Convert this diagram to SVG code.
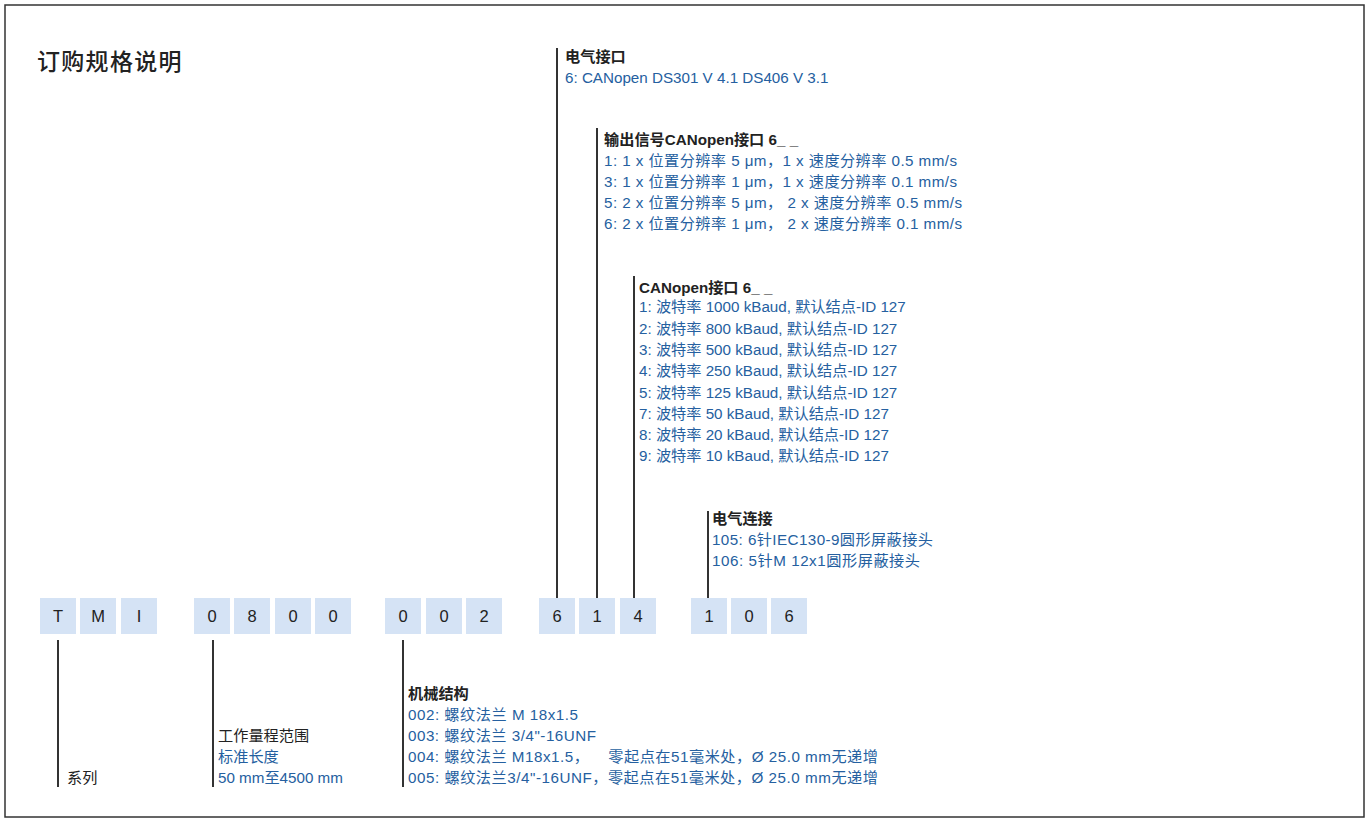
<svg xmlns="http://www.w3.org/2000/svg" width="1372" height="818" viewBox="0 0 1372 818">
<style>
text{font-family:"Liberation Sans","Noto Sans CJK SC",sans-serif;font-size:15.2px}
.h{fill:#222;font-weight:bold}
.n{fill:#222}
.b{fill:#2560a0}
.t{fill:#222;font-size:23px;font-weight:500;letter-spacing:1.3px}
.bx{fill:#d5e3f5}
.c{fill:#222;font-size:16.5px;text-anchor:middle}
.ln{stroke:#333;stroke-width:2;fill:none}
</style>
<rect x="5" y="5" width="1359" height="812" fill="#fff" stroke="#333" stroke-width="1.5"/>
<text class="t" x="37" y="70">订购规格说明</text>

<g id="connectors">
<line class="ln" x1="557" y1="48" x2="557" y2="598"/>
<line class="ln" x1="597" y1="128" x2="597" y2="598"/>
<line class="ln" x1="634" y1="276" x2="634" y2="598"/>
<line class="ln" x1="708" y1="511" x2="708" y2="598"/>
<line class="ln" x1="58" y1="640" x2="58" y2="787"/>
<line class="ln" x1="213" y1="640" x2="213" y2="787"/>
<line class="ln" x1="403" y1="640" x2="403" y2="787"/>
</g>

<g id="code">
<rect class="bx" x="40" y="598" width="36" height="36"/><text class="c" x="58" y="622">T</text>
<rect class="bx" x="80" y="598" width="36" height="36"/><text class="c" x="98" y="622">M</text>
<rect class="bx" x="121" y="598" width="36" height="36"/><text class="c" x="139" y="622">I</text>
<rect class="bx" x="194" y="598" width="36" height="36"/><text class="c" x="212" y="622">0</text>
<rect class="bx" x="234" y="598" width="36" height="36"/><text class="c" x="252" y="622">8</text>
<rect class="bx" x="275" y="598" width="36" height="36"/><text class="c" x="293" y="622">0</text>
<rect class="bx" x="315" y="598" width="36" height="36"/><text class="c" x="333" y="622">0</text>
<rect class="bx" x="385" y="598" width="36" height="36"/><text class="c" x="403" y="622">0</text>
<rect class="bx" x="426" y="598" width="36" height="36"/><text class="c" x="444" y="622">0</text>
<rect class="bx" x="466" y="598" width="36" height="36"/><text class="c" x="484" y="622">2</text>
<rect class="bx" x="539" y="598" width="36" height="36"/><text class="c" x="557" y="622">6</text>
<rect class="bx" x="579" y="598" width="36" height="36"/><text class="c" x="597" y="622">1</text>
<rect class="bx" x="620" y="598" width="36" height="36"/><text class="c" x="638" y="622">4</text>
<rect class="bx" x="691" y="598" width="36" height="36"/><text class="c" x="709" y="622">1</text>
<rect class="bx" x="731" y="598" width="36" height="36"/><text class="c" x="749" y="622">0</text>
<rect class="bx" x="771" y="598" width="36" height="36"/><text class="c" x="789" y="622">6</text>
</g>

<g id="electric-interface">
<text class="h" x="565" y="62">电气接口</text>
<text class="b" x="565" y="83">6: CANopen DS301 V 4.1 DS406 V 3.1</text>
</g>

<g id="output-signal">
<text class="h" x="604" y="145">输出信号CANopen接口 6_ _</text>
<text class="b" x="604" y="165.5" textLength="353">1: 1 x 位置分辨率 5 μm，1 x 速度分辨率 0.5 mm/s</text>
<text class="b" x="604" y="186.8" textLength="353">3: 1 x 位置分辨率 1 μm，1 x 速度分辨率 0.1 mm/s</text>
<text class="b" x="604" y="208.1" textLength="358" style="white-space:pre">5: 2 x 位置分辨率 5 μm， 2 x 速度分辨率 0.5 mm/s</text>
<text class="b" x="604" y="229.4" textLength="358" style="white-space:pre">6: 2 x 位置分辨率 1 μm， 2 x 速度分辨率 0.1 mm/s</text>
</g>

<g id="canopen-interface">
<text class="h" x="639" y="293">CANopen接口 6_ _</text>
<text class="b" x="639" y="312.3">1: 波特率 1000 kBaud, 默认结点-ID 127</text>
<text class="b" x="639" y="333.6">2: 波特率 800 kBaud, 默认结点-ID 127</text>
<text class="b" x="639" y="354.9">3: 波特率 500 kBaud, 默认结点-ID 127</text>
<text class="b" x="639" y="376.2">4: 波特率 250 kBaud, 默认结点-ID 127</text>
<text class="b" x="639" y="397.5">5: 波特率 125 kBaud, 默认结点-ID 127</text>
<text class="b" x="639" y="418.8">7: 波特率 50 kBaud, 默认结点-ID 127</text>
<text class="b" x="639" y="440.1">8: 波特率 20 kBaud, 默认结点-ID 127</text>
<text class="b" x="639" y="461.4">9: 波特率 10 kBaud, 默认结点-ID 127</text>
</g>

<g id="electric-connection">
<text class="h" x="712" y="524">电气连接</text>
<text class="b" x="712" y="545" textLength="221">105: 6针IEC130-9圆形屏蔽接头</text>
<text class="b" x="712" y="566" textLength="208">106: 5针M 12x1圆形屏蔽接头</text>
</g>

<g id="series">
<text class="n" x="67" y="783">系列</text>
</g>

<g id="range">
<text class="n" x="218" y="741">工作量程范围</text>
<text class="b" x="218" y="762">标准长度</text>
<text class="b" x="218" y="783">50 mm至4500 mm</text>
</g>

<g id="mechanical">
<text class="h" x="408" y="699">机械结构</text>
<text class="b" x="408" y="720" textLength="170">002: 螺纹法兰 M 18x1.5</text>
<text class="b" x="408" y="741" textLength="188">003: 螺纹法兰 3/4"-16UNF</text>
<text class="b" x="408" y="762" textLength="470" style="white-space:pre">004: 螺纹法兰 M18x1.5，    零起点在51毫米处，Ø 25.0 mm无递增</text>
<text class="b" x="408" y="783" textLength="470">005: 螺纹法兰3/4"-16UNF，零起点在51毫米处，Ø 25.0 mm无递增</text>
</g>
</svg>
